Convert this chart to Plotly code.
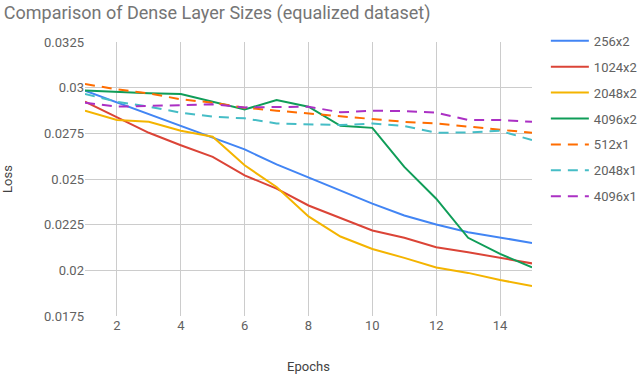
import plotly.graph_objects as go

epochs = list(range(1, 16))

names = ["256x2", "1024x2", "2048x2", "4096x2", "512x1", "2048x1", "4096x1"]
colors = ["#4285F4", "#DB4437", "#F4B400", "#0F9D58", "#FF6D00", "#46BDC6", "#AB30C4"]
dashes = ["solid", "solid", "solid", "solid", "10px,7px", "10px,7px", "10px,7px"]

loss_256x2 = [0.02984, 0.0292, 0.02855, 0.0279, 0.02724, 0.02662, 0.0258, 0.02508,
              0.02436, 0.02365, 0.0230, 0.02251, 0.02209, 0.02178, 0.0215]
loss_1024x2 = [0.02923, 0.02837, 0.02753, 0.02685, 0.02621, 0.0252, 0.02447, 0.02355,
               0.02288, 0.02218, 0.02178, 0.02126, 0.02099, 0.02068, 0.02038]
loss_2048x2 = [0.02874, 0.02823, 0.02813, 0.02764, 0.02731, 0.02575, 0.02456, 0.02295,
               0.02185, 0.02117, 0.02068, 0.02016, 0.01986, 0.01947, 0.01914]
loss_4096x2 = [0.02984, 0.02975, 0.02969, 0.02965, 0.02923, 0.02881, 0.02932, 0.02896,
               0.02791, 0.0278, 0.02566, 0.02392, 0.02178, 0.0209, 0.02016]
loss_512x1 = [0.0302, 0.02991, 0.02969, 0.02936, 0.02918, 0.0289, 0.02874, 0.02859,
              0.02844, 0.02828, 0.02813, 0.02804, 0.02786, 0.02771, 0.02753]
loss_2048x1 = [0.02965, 0.02923, 0.02896, 0.02863, 0.02841, 0.02832, 0.02804, 0.028,
               0.02795, 0.02804, 0.0279, 0.02753, 0.02755, 0.02764, 0.02713]
loss_4096x1 = [0.02918, 0.02896, 0.029, 0.02905, 0.02909, 0.02892, 0.02896, 0.02896,
               0.02865, 0.02874, 0.02872, 0.02863, 0.02823, 0.02823, 0.02813]

series = [loss_256x2, loss_1024x2, loss_2048x2, loss_4096x2, loss_512x1, loss_2048x1, loss_4096x1]

y_tickvals = [0.0175, 0.02, 0.0225, 0.025, 0.0275, 0.03, 0.0325]
y_ticktext = ["0.0175", "0.02", "0.0225", "0.025", "0.0275", "0.03", "0.0325"]
x_tickvals = [2, 4, 6, 8, 10, 12, 14]

fig = go.Figure()
for i, (n, ys) in enumerate(zip(names, series)):
    fig.add_trace(go.Scatter(
        x=epochs, y=ys, mode="lines", name=n, legendgroup=n,
        line=dict(color=colors[i], width=2, dash=dashes[i]),
    ))

font_fam = "Roboto, Arial, sans-serif"
fig.update_layout(
    template="none",
    width=640, height=376,
    margin=dict(l=85, r=108, t=42, b=60, autoexpand=False),
    paper_bgcolor="white", plot_bgcolor="white",
    font=dict(family=font_fam, color="#616161", size=13),
    title=dict(text="Comparison of Dense Layer Sizes (equalized dataset)",
               x=0.006, xanchor="left", y=0.967, yanchor="middle",
               font=dict(size=18, color="#757575", family=font_fam)),
    showlegend=True,
    legend=dict(x=1.031, xanchor="left", y=1.059, yanchor="top",
                font=dict(size=13, color="#616161"),
                tracegroupgap=6, itemwidth=38, bgcolor="rgba(0,0,0,0)",
                borderwidth=0),
    xaxis=dict(range=[1, 15], tickvals=x_tickvals, showgrid=True, gridcolor="#cccccc",
               gridwidth=1, zeroline=False, showline=False, ticks="", automargin=False,
               tickfont=dict(size=13, color="#616161"),
               title=dict(text="Epochs", font=dict(size=13, color="#424242"), standoff=29)),
    yaxis=dict(range=[0.0175, 0.0325], tickvals=y_tickvals, ticktext=y_ticktext,
               showgrid=True, gridcolor="#cccccc", gridwidth=1, zeroline=False,
               showline=False, ticks="", automargin=False,
               tickfont=dict(size=13, color="#616161"),
               title=dict(text="Loss", font=dict(size=13, color="#424242"), standoff=30)),
)

fig.write_html("out.html", config={"displayModeBar": False},
               post_script="document.body.style.margin='0';")
